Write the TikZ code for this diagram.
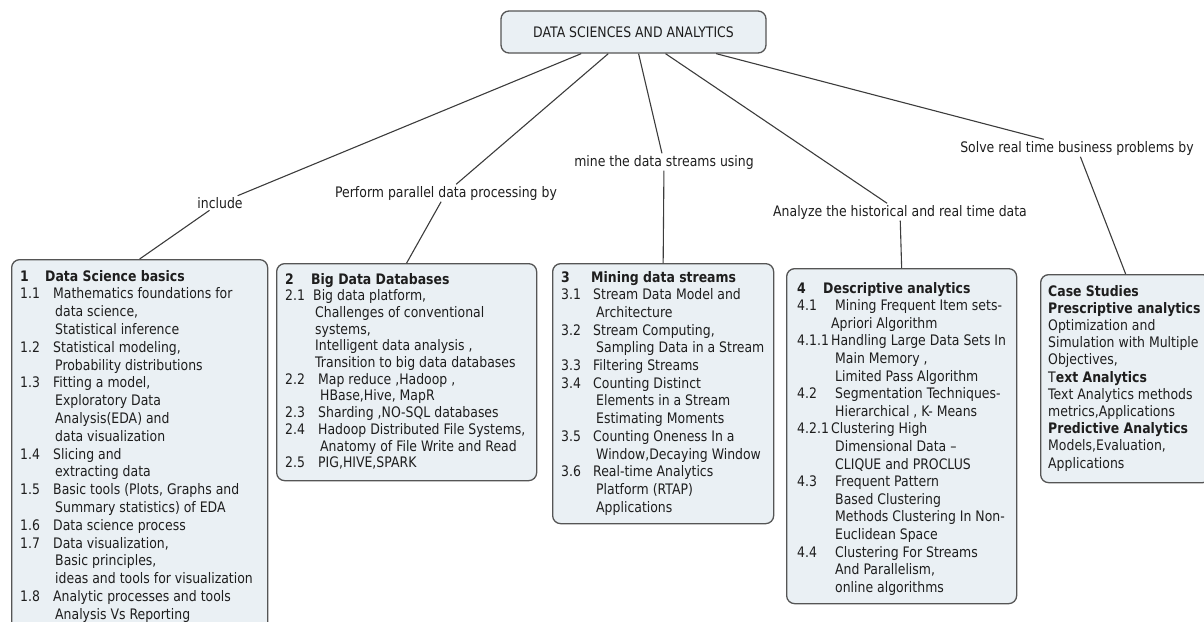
\documentclass[tikz,border=0pt]{standalone}
\usepackage{fontspec}
\newfontfamily\mapfont{DejaVu Sans}[FakeStretch=0.86]
\definecolor{boxfill}{HTML}{EAF0F4}
\definecolor{boxline}{HTML}{555555}
\definecolor{linkline}{HTML}{3C3C3C}
\definecolor{ink}{HTML}{1E1E1E}
% column widths used inside the topic boxes
\newdimen\numw \newdimen\contw \newdimen\headw
\newcommand\entry[3][\numw]{\hbox{\hbox to #1{#2\hss}#3}}
\newcommand\more[2][\contw]{\hbox{\hskip #1\relax #2}}
\newcommand\heading[2]{\hbox{\bfseries\hbox to \headw{#1\hss}#2}}
\tikzset{
  mapbox/.style={draw=boxline, line width=1.3pt, fill=boxfill,
    rounded corners=8pt, inner sep=0pt, anchor=north west},
  rootbox/.style={draw=boxline, line width=1.3pt, fill=boxfill,
    rounded corners=8pt, inner sep=0pt, minimum width=265pt,
    minimum height=42pt, font=\mapfont\fontsize{14.5pt}{17pt}\selectfont, text=ink},
  tag/.style={font=\mapfont\fontsize{14.5pt}{17pt}\selectfont, text=ink, inner sep=1.5pt},
  body/.style={font=\mapfont\fontsize{14.5pt}{17pt}\selectfont, text=ink,
    inner sep=0pt, anchor=base west},
  link/.style={draw=linkline, line width=1.1pt},
}
\begin{document}
\begin{tikzpicture}[x=1pt,y=-1pt]
\useasboundingbox (0,0) rectangle (1204,621);
\clip (0,0) rectangle (1204,621);

% central topic
\node[rootbox] (root) at (633.5,32) {DATA SCIENCES AND ANALYTICS};

% topic boxes
\node[mapbox, minimum width=256pt, minimum height=381pt] (b1) at (11,259) {};
\node[mapbox, minimum width=260pt, minimum height=217pt] (b2) at (276,263) {};
\node[mapbox, minimum width=221pt, minimum height=260pt] (b3) at (552,263) {};
\node[mapbox, minimum width=230pt, minimum height=335pt] (b4) at (786,268) {};
\node[mapbox, minimum width=170pt, minimum height=208pt] (b5) at (1040,274) {};

% linking phrases
\node[tag] (linc) at (220,203) {include};
\node[tag] (lper) at (446,193) {Perform parallel data processing by};
\node[tag] (lmin) at (664,162) {mine the data streams using};
\node[tag] (lana) at (900,212) {Analyze the historical and real time data};
\node[tag] (lsol) at (1077,148) {Solve real time business problems by};

% connectors
\draw[link] (root) -- (linc);
\draw[link] (linc) -- (b1.north);
\draw[link] (root) -- (lper);
\draw[link] (lper) -- (b2.north);
\draw[link] (root) -- (lmin);
\draw[link] (lmin) -- (b3.north);
\draw[link] (root) -- (lana);
\draw[link] (lana) -- (b4.north);
\draw[link] (root) -- (lsol);
\draw[link] (lsol) -- (b5.north);

% box contents
\node[body] (t1) at (20,281) {\vtop{\numw=33pt \contw=35pt \headw=25pt \baselineskip=17.8pt
  \heading{1}{Data Science basics}
  \entry{1.1}{Mathematics foundations for}
  \more{data science,}
  \more{Statistical inference}
  \entry{1.2}{Statistical modeling,}
  \more{Probability distributions}
  \entry{1.3}{Fitting a model,}
  \more{Exploratory Data}
  \more{Analysis(EDA) and}
  \more{data visualization}
  \entry{1.4}{Slicing and}
  \more{extracting data}
  \entry{1.5}{Basic tools (Plots, Graphs and}
  \more{Summary statistics) of EDA}
  \entry{1.6}{Data science process}
  \entry{1.7}{Data visualization,}
  \more{Basic principles,}
  \more{ideas and tools for visualization}
  \entry{1.8}{Analytic processes and tools}
  \more{Analysis Vs Reporting}}};

\node[body] (t2) at (285,284) {\vtop{\numw=33pt \contw=35pt \headw=26pt \baselineskip=16.7pt
  \heading{2}{Big Data Databases}
  \entry[28pt]{2.1}{Big data platform,}
  \more[30pt]{Challenges of conventional}
  \more[30pt]{systems,}
  \more[30pt]{Intelligent data analysis ,}
  \more[30pt]{Transition to big data databases}
  \entry{2.2}{Map reduce ,Hadoop ,}
  \more{HBase,Hive, MapR}
  \entry{2.3}{Sharding ,NO-SQL databases}
  \entry{2.4}{Hadoop Distributed File Systems,}
  \more{Anatomy of File Write and Read}
  \entry{2.5}{PIG,HIVE,SPARK}}};

\node[body] (t3) at (561,282) {\vtop{\numw=32pt \contw=35pt \headw=30pt \baselineskip=17.7pt
  \heading{3}{Mining data streams}
  \entry{3.1}{Stream Data Model and}
  \more{Architecture}
  \entry{3.2}{Stream Computing,}
  \more{Sampling Data in a Stream}
  \entry{3.3}{Filtering Streams}
  \entry{3.4}{Counting Distinct}
  \more{Elements in a Stream}
  \more{Estimating Moments}
  \entry{3.5}{Counting Oneness In a}
  \more{Window,Decaying Window}
  \entry{3.6}{Real-time Analytics}
  \more{Platform (RTAP)}
  \more{Applications}}};

\node[body] (t4) at (797,293) {\vtop{\numw=38pt \contw=38pt \headw=26pt \baselineskip=17.6pt
  \heading{4}{Descriptive analytics}
  \entry{4.1}{Mining Frequent Item sets-}
  \more[34pt]{Apriori Algorithm}
  \entry[34pt]{4.1.1}{Handling Large Data Sets In}
  \more{Main Memory ,}
  \more{Limited Pass Algorithm}
  \entry{4.2}{Segmentation Techniques-}
  \more{Hierarchical , K- Means}
  \entry[34pt]{4.2.1}{Clustering High}
  \more{Dimensional Data –}
  \more{CLIQUE and PROCLUS}
  \entry{4.3}{Frequent Pattern}
  \more{Based Clustering}
  \more{Methods Clustering In Non-}
  \more{Euclidean Space}
  \entry{4.4}{Clustering For Streams}
  \more{And Parallelism,}
  \more{online algorithms}}};

\node[body] (t5) at (1048,296) {\vtop{\contw=0pt \baselineskip=17.2pt
  \more{\bfseries Case Studies}
  \more{\bfseries Prescriptive analytics}
  \more{Optimization and}
  \more{Simulation with Multiple}
  \more{Objectives,}
  \more{T\bfseries ext Analytics}
  \more{Text Analytics methods}
  \more{metrics,Applications}
  \more{\bfseries Predictive Analytics}
  \more{Models,Evaluation,}
  \more{Applications}}};
\end{tikzpicture}
\end{document}
